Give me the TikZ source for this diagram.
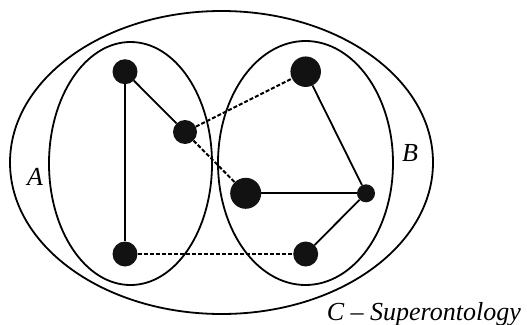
\documentclass[tikz,border=0pt]{standalone}
\usepackage{fontspec}
\setmainfont{Liberation Serif}
\begin{document}
\begin{tikzpicture}[x=1pt,y=-1pt,
  ring/.style={draw=black,line width=1.8pt},
  dot/.style={circle,fill=black!93,inner sep=0pt},
  solidedge/.style={line width=1.8pt},
  dashedge/.style={line width=2pt,dash pattern=on 4pt off 2pt},
  lab/.style={font=\fontsize{26}{28}\selectfont\itshape,inner sep=0pt}]
\useasboundingbox (0,0) rectangle (527,324);
\draw[ring] (221.5,162.5) ellipse [x radius=211.5, y radius=151.5];
\draw[ring] (130.5,163.5) ellipse [x radius=81.5, y radius=121.5];
\draw[ring] (305.5,163) ellipse [x radius=87.5, y radius=122];
\node[dot,minimum size=25pt] (n1) at (125,71.7) {};
\node[dot,minimum size=24pt] (n2) at (185,132) {};
\node[dot,minimum size=30.5pt] (n3) at (305.7,71.7) {};
\node[dot,minimum size=31pt] (n4) at (245.7,193.3) {};
\node[dot,minimum size=18pt] (n5) at (366,193.3) {};
\node[dot,minimum size=25pt] (n6) at (125,254) {};
\node[dot,minimum size=25pt] (n7) at (305.7,254) {};
\draw[solidedge] (n1) -- (n6);
\draw[solidedge] (n1) -- (n2);
\draw[dashedge] (n2) -- (n3);
\draw[dashedge] (n2) -- (n4);
\draw[dashedge] (n6) -- (n7);
\draw[solidedge] (n3) -- (n5);
\draw[solidedge] (n4) -- (n5);
\draw[solidedge] (n5) -- (n7);
\node[lab] (la) at (35,177) {A};
\node[lab] (lb) at (410,153) {B};
\node[lab,anchor=base east] (lc) at (521,320) {C – Superontology};
\end{tikzpicture}
\end{document}
